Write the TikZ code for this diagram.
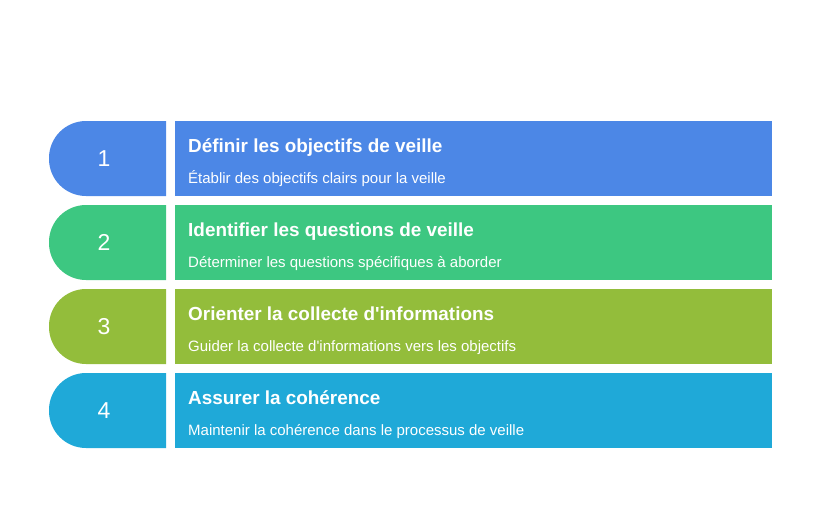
\documentclass[tikz,border=0pt]{standalone}
\usepackage{fontspec}
\setmainfont{Liberation Sans}
\definecolor{stepblue}{HTML}{4C87E6}
\definecolor{stepgreen}{HTML}{3DC781}
\definecolor{stepolive}{HTML}{93BD3B}
\definecolor{stepcyan}{HTML}{1FA9D8}
\tikzset{
  numtab/.style={text=white, font=\fontsize{23}{25}\selectfont},
  steptitle/.style={anchor=base west, text=white, inner sep=0pt, font=\fontsize{18.9}{21}\selectfont\bfseries},
  stepdesc/.style={anchor=base west, text=white, inner sep=0pt, font=\fontsize{15}{17}\selectfont}
}
\begin{document}
\begin{tikzpicture}[x=1pt, y=-1pt]
  \useasboundingbox (0,0) rectangle (822,522);
  % The four steps, one row each
  \foreach \i/\col/\title/\desc in {
    1/stepblue/{Définir les objectifs de veille}/{Établir des objectifs clairs pour la veille},
    2/stepgreen/{Identifier les questions de veille}/{Déterminer les questions spécifiques à aborder},
    3/stepolive/{Orienter la collecte d\textquotesingle informations}/{Guider la collecte d\textquotesingle informations vers les objectifs},
    4/stepcyan/{Assurer la cohérence}/{Maintenir la cohérence dans le processus de veille}} {
    \pgfmathsetmacro{\top}{121 + (\i-1)*84}
    % Rounded number tab
    \fill[\col] (166,\top) [rounded corners=37pt] -- (49,\top) -- (49,\top+75)
      [sharp corners] -- (166,\top+75) -- cycle;
    \node[numtab] (num\i) at (104,\top+37.5) {\i};
    % Text bar
    \fill[\col] (175,\top) rectangle (772,\top+75);
    \node[steptitle] (title\i) at (188,\top+31) {\title};
    \node[stepdesc] (desc\i) at (188,\top+62.5) {\desc};
  }
\end{tikzpicture}
\end{document}
